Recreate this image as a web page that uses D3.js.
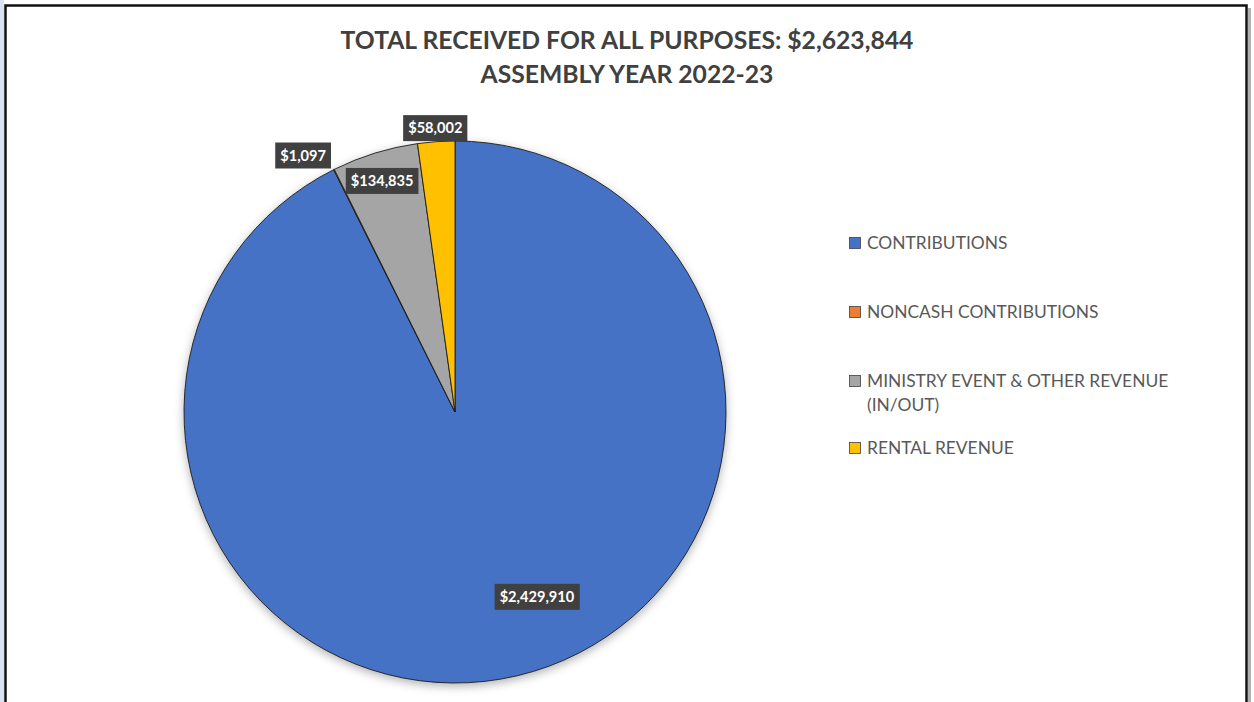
<!doctype html>
<html>
<head>
    <meta charset="UTF-8">
    <script type="text/javascript" src="https://cdn.jsdelivr.net/npm/d3@7"></script>
    <style>
        body { margin: 0; background: #ffffff; }
        svg { display: block; }
    </style>
</head>
<body>
<svg id="chart"></svg>
<script type="text/javascript">
    // chart data
    var categories = ["CONTRIBUTIONS", "NONCASH CONTRIBUTIONS", "MINISTRY EVENT & OTHER REVENUE (IN/OUT)", "RENTAL REVENUE"];
    var values = [2429910, 1097, 134835, 58002];
    var colors = ["#4472C4", "#ED7D31", "#A5A5A5", "#FFC000"];
    var titleLines = ["TOTAL RECEIVED FOR ALL PURPOSES: $2,623,844", "ASSEMBLY YEAR 2022-23"];

    // label placement (fraction of radius, angle nudge in degrees), mimics excel "best fit"
    var labelRadius = [0.746, 1.10, 0.894, 1.05];
    var labelNudge = [-10.6, -4.1, -0.3, 0];

    var width = 1254, height = 702;
    var cx = 455, cy = 412, r = 271;

    var svg = d3.select("#chart").attr("width", width).attr("height", height);

    var defs = svg.append("defs");
    var f = defs.append("filter").attr("id", "shadow")
        .attr("x", "-20%").attr("y", "-20%").attr("width", "140%").attr("height", "140%");
    f.append("feDropShadow").attr("dx", 0).attr("dy", 3).attr("stdDeviation", 5)
        .attr("flood-color", "#000").attr("flood-opacity", 0.3);

    // page strip + chart frame
    svg.append("rect").attr("x", 0).attr("y", 0).attr("width", 4).attr("height", height).attr("fill", "#dae3f3");
    svg.append("rect").attr("x", 1248).attr("y", 8).attr("width", 3).attr("height", height).attr("fill", "#b0b0b0");
    svg.append("rect").attr("x", 5.5).attr("y", 5.5).attr("width", 1241).attr("height", height + 20)
        .attr("fill", "#ffffff").attr("stroke", "#111").attr("stroke-width", 2.5);

    // title
    svg.selectAll(".title").data(titleLines).enter().append("text")
        .attr("class", "title")
        .attr("x", 627)
        .attr("y", (d, i) => 49 + i * 34)
        .attr("text-anchor", "middle")
        .style("font-family", "Lato, 'Open Sans', sans-serif")
        .style("font-weight", "bold")
        .style("font-size", "24.7px")
        .style("fill", "#404040")
        .text(d => d);

    // pie
    var pie = d3.pie().sort(null).value(d => d);
    var arcs = pie(values);
    var arc = d3.arc().innerRadius(0).outerRadius(r);

    var g = svg.append("g").attr("transform", "translate(" + cx + "," + cy + ")");
    g.append("g").attr("filter", "url(#shadow)")
        .selectAll("path").data(arcs).enter().append("path")
        .attr("d", arc)
        .attr("fill", (d, i) => colors[i])
        .attr("stroke", "#1c1c1c")
        .attr("stroke-width", 0.9)
        .attr("stroke-linejoin", "round");

    // data labels
    var fmt = d3.format("$,");
    var labels = g.selectAll(".lbl").data(arcs).enter().append("g").attr("class", "lbl")
        .attr("transform", function(d, i) {
            var a = (d.startAngle + d.endAngle) / 2 + labelNudge[i] * Math.PI / 180;
            var rr = r * labelRadius[i];
            return "translate(" + (rr * Math.sin(a)) + "," + (-rr * Math.cos(a)) + ")";
        });
    labels.each(function(d) {
        var sel = d3.select(this);
        var t = sel.append("text")
            .attr("text-anchor", "middle")
            .attr("dy", "0.36em")
            .style("font-family", "Lato, 'Open Sans', sans-serif")
            .style("font-weight", "bold")
            .style("font-size", "14.6px")
            .style("fill", "#ffffff")
            .text(fmt(d.value));
        var bb = t.node().getBBox();
        sel.insert("rect", "text")
            .attr("x", bb.x - 5).attr("y", -13)
            .attr("width", bb.width + 10).attr("height", 26)
            .attr("fill", "#404040");
    });

    // legend
    var legendX = 849;
    var legendY = [243, 312, 381, 448];
    var leg = svg.selectAll(".leg").data(categories).enter().append("g").attr("class", "leg")
        .attr("transform", (d, i) => "translate(" + legendX + "," + legendY[i] + ")");
    leg.append("rect")
        .attr("x", 0.5).attr("y", -5.5).attr("width", 11).attr("height", 11)
        .attr("fill", (d, i) => colors[i])
        .attr("stroke", "#404040").attr("stroke-width", 0.8);
    leg.each(function(d) {
        var lines = d.indexOf("(IN/OUT)") > 0 ? [d.replace(" (IN/OUT)", ""), "(IN/OUT)"] : [d];
        d3.select(this).selectAll("text").data(lines).enter().append("text")
            .attr("x", 18)
            .attr("y", (l, j) => j * 24)
            .attr("dy", "0.36em")
            .style("font-family", "Lato, 'Open Sans', sans-serif")
            .style("font-size", "17.4px")
            .style("fill", "#595959")
            .text(l => l);
    });
</script>
</body>
</html>
